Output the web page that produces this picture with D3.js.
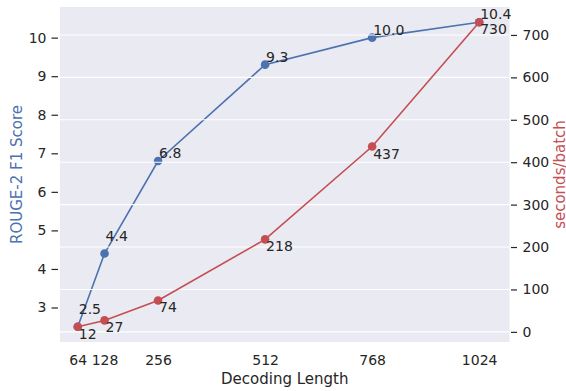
<!DOCTYPE html>
<html>
<head>
<meta charset="utf-8">
<script src="https://cdn.jsdelivr.net/npm/d3@7"></script>
<style>
  body { margin: 0; background: #fff; }
  text { font-family: "DejaVu Sans", sans-serif; }
</style>
</head>
<body>
<div id="chart"></div>
<script>
// Data
const lengths = [64, 128, 256, 512, 768, 1024];
const rougeScores = [2.5, 4.4, 6.8, 9.3, 10.0, 10.4];
const secondsPerBatch = [12, 27, 74, 218, 437, 730];
const rougeLabels = ["2.5", "4.4", "6.8", "9.3", "10.0", "10.4"];
const secondsLabels = ["12", "27", "74", "218", "437", "730"];
// the first two score labels sit a bit higher (in score units)
const rougeLabelLift = [0.25, 0.25, 0, 0, 0, 0];
const leftTicks = [3, 4, 5, 6, 7, 8, 9, 10];
const rightTicks = [0, 100, 200, 300, 400, 500, 600, 700];

const blue = "#4c72b0";
const red = "#c44e52";
const ink = "#262626";

const width = 566, height = 391;
const plot = { left: 60, right: 509.5, top: 7, bottom: 342 };
const fontSize = 14;

const svg = d3.select("#chart")
    .append("svg")
    .attr("width", width)
    .attr("height", height);

const x = d3.scaleLinear([21.5, 1096.5], [plot.left, plot.right]);
const yLeft = d3.scaleLinear([2.105, 10.795], [plot.bottom, plot.top]);
const yRight = d3.scaleLinear([-23.9, 765.9], [plot.bottom, plot.top]);

// background
svg.append("rect")
    .attr("x", plot.left)
    .attr("y", plot.top)
    .attr("width", plot.right - plot.left)
    .attr("height", plot.bottom - plot.top)
    .attr("fill", "#eaeaf2");

// blue series (below the grid of the twin axis)
const blueLine = d3.line()
    .x((d, i) => x(lengths[i]))
    .y(d => yLeft(d));

svg.append("path")
    .datum(rougeScores)
    .attr("d", blueLine)
    .attr("fill", "none")
    .attr("stroke", blue)
    .attr("stroke-width", 1.6);

svg.append("g")
    .selectAll("circle")
    .data(rougeScores)
    .join("circle")
    .attr("cx", (d, i) => x(lengths[i]))
    .attr("cy", d => yLeft(d))
    .attr("r", 4.3)
    .attr("fill", blue);

// grid lines from the right axis
svg.append("g")
    .selectAll("line")
    .data(rightTicks)
    .join("line")
    .attr("x1", plot.left)
    .attr("x2", plot.right)
    .attr("y1", d => yRight(d))
    .attr("y2", d => yRight(d))
    .attr("stroke", "#fff")
    .attr("stroke-width", 1.1);

// red series
const redLine = d3.line()
    .x((d, i) => x(lengths[i]))
    .y(d => yRight(d));

svg.append("path")
    .datum(secondsPerBatch)
    .attr("d", redLine)
    .attr("fill", "none")
    .attr("stroke", red)
    .attr("stroke-width", 1.6);

svg.append("g")
    .selectAll("circle")
    .data(secondsPerBatch)
    .join("circle")
    .attr("cx", (d, i) => x(lengths[i]))
    .attr("cy", d => yRight(d))
    .attr("r", 4.3)
    .attr("fill", red);

// point labels
svg.append("g")
    .selectAll("text")
    .data(rougeScores)
    .join("text")
    .attr("x", (d, i) => x(lengths[i]) + 1)
    .attr("y", (d, i) => yLeft(d + rougeLabelLift[i]) - 3)
    .attr("font-size", fontSize)
    .attr("fill", ink)
    .text((d, i) => rougeLabels[i]);

svg.append("g")
    .selectAll("text")
    .data(secondsPerBatch)
    .join("text")
    .attr("x", (d, i) => x(lengths[i]) + 1)
    .attr("y", d => yRight(d) + 12)
    .attr("font-size", fontSize)
    .attr("fill", ink)
    .text((d, i) => secondsLabels[i]);

// axes
const leftAxis = svg.append("g")
    .attr("transform", `translate(${plot.left - 2}, 0)`)
    .call(d3.axisLeft(yLeft).tickValues(leftTicks).tickSize(6.5).tickPadding(5).tickFormat(d3.format("d")));

const rightAxis = svg.append("g")
    .attr("transform", `translate(${plot.right + 1.5}, 0)`)
    .call(d3.axisRight(yRight).tickValues(rightTicks).tickSize(6).tickPadding(5.5).tickFormat(d3.format("d")));

const bottomAxis = svg.append("g")
    .attr("transform", `translate(0, ${plot.bottom})`)
    .call(d3.axisBottom(x).tickValues(lengths).tickSize(0).tickPadding(13).tickFormat(d3.format("d")));

[leftAxis, rightAxis, bottomAxis].forEach(g => {
    g.select(".domain").remove();
    g.selectAll(".tick line").attr("stroke", ink).attr("stroke-width", 1.2);
    g.selectAll(".tick text")
        .attr("fill", ink)
        .attr("font-size", fontSize)
        .attr("font-family", "DejaVu Sans, sans-serif");
});

// axis titles
svg.append("text")
    .attr("x", (plot.left + plot.right) / 2)
    .attr("y", 384)
    .attr("text-anchor", "middle")
    .attr("font-size", 15)
    .attr("fill", ink)
    .text("Decoding Length");

svg.append("text")
    .attr("transform", `translate(22, ${(plot.top + plot.bottom) / 2}) rotate(-90)`)
    .attr("text-anchor", "middle")
    .attr("font-size", 15)
    .attr("fill", blue)
    .text("ROUGE-2 F1 Score");

svg.append("text")
    .attr("transform", `translate(564.5, ${(plot.top + plot.bottom) / 2}) rotate(-90)`)
    .attr("text-anchor", "middle")
    .attr("font-size", 15)
    .attr("fill", red)
    .text("seconds/batch");
</script>
</body>
</html>
